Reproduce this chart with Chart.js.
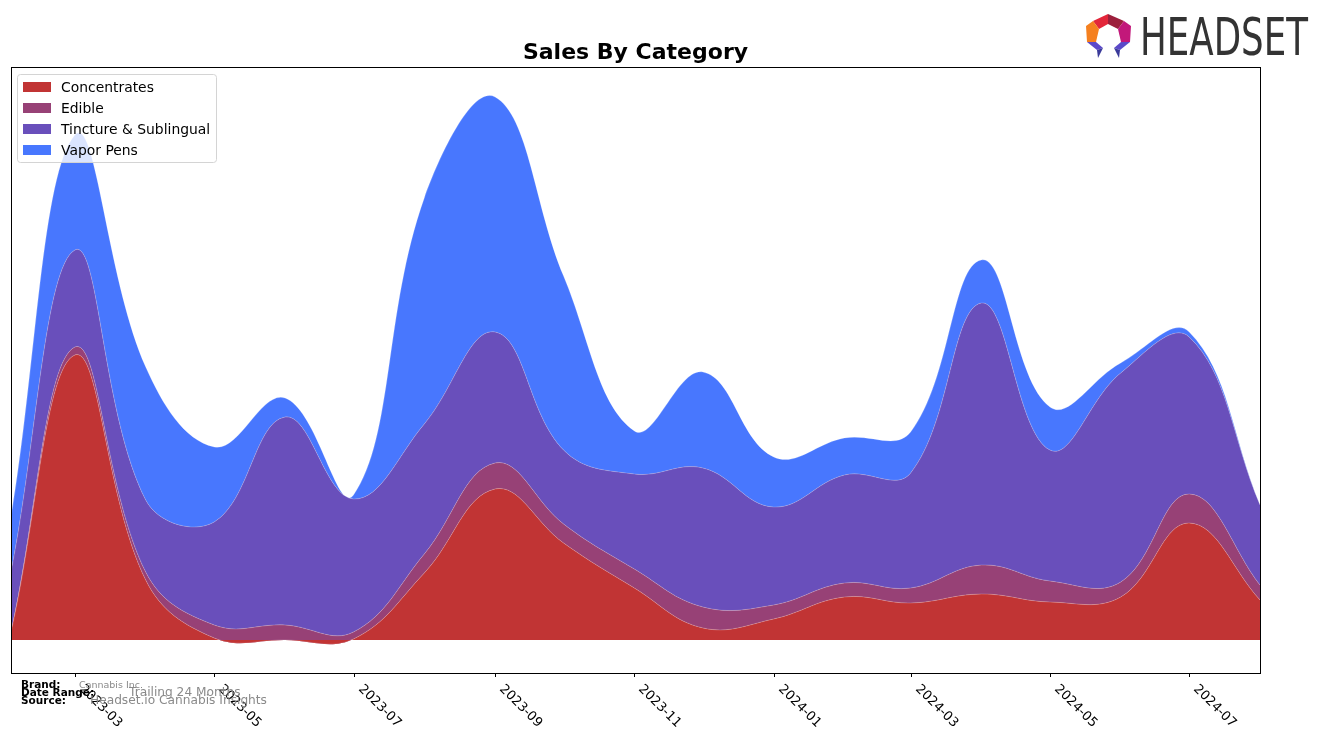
<!DOCTYPE html>
<html>
<head>
<meta charset="utf-8">
<script src="https://cdn.jsdelivr.net/npm/chart.js@4"></script>
<style>
  html, body { margin: 0; padding: 0; background: #ffffff; }
  #wrap { width: 1324px; height: 743px; position: relative; }
</style>
</head>
<body>
<div id="wrap"><canvas id="c" width="1324" height="743"></canvas></div>
<script>
// ---- data ----
const months = ['2023-02','2023-03','2023-04','2023-05','2023-06','2023-07','2023-08','2023-09','2023-10',
                '2023-11','2023-12','2024-01','2024-02','2024-03','2024-04','2024-05','2024-06','2024-07','2024-08'];
const concentrates = [8, 285, 60, 2, 0, 1, 67, 151, 97, 52, 12, 21, 43, 37, 46, 38, 43, 117, 40];
const edible       = [0, 8, 8, 13, 15, 7, 19, 26, 19, 19, 21, 14, 14, 15, 29, 21, 15, 29, 15];
const tincture     = [60, 97, 72, 103, 208, 133, 130, 131, 74, 95, 139, 98, 108, 115, 262, 131, 209, 157, 80];
const vaporPens    = [55, 115, 133, 75, 19, 4, 226, 235, 174, 43, 96, 50, 37, 41, 43, 43, 10, 5, 0];
const tickLabels   = ['2023-03','2023-05','2023-07','2023-09','2023-11','2024-01','2024-03','2024-05','2024-07'];
const seriesNames  = ['Concentrates','Edible','Tincture & Sublingual','Vapor Pens'];
const footerLabels = ['Brand:','Date Range:','Source:'];
const footerValues = ['Cannabis Inc.','Trailing 24 Months','Headset.io Cannabis Insights'];

const colors = ['#c13434', '#974176', '#694fbb', '#4877fe'];

function toTime(m) { const [y, mo] = m.split('-').map(Number); return Date.UTC(y, mo - 1, 1); }
function pts(arr) { return arr.map((v, i) => ({ x: toTime(months[i]), y: v })); }

const seriesValues = [concentrates, edible, tincture, vaporPens];
const datasets = seriesValues.map((arr, i) => ({
  label: seriesNames[i],
  data: pts(arr),
  backgroundColor: colors[i],
  borderColor: 'rgba(255,255,255,0.25)',
  borderWidth: 0.8,
  fill: i === 0 ? 'origin' : '-1',
  tension: 0.4,
  pointRadius: 0
}));

const decor = {
  id: 'decor',
  afterDraw(chart) {
    const ctx = chart.ctx;
    const a = chart.chartArea;
    const xs = chart.scales.x;
    ctx.save();
    // frame
    ctx.strokeStyle = '#000';
    ctx.lineWidth = 1;
    ctx.strokeRect(Math.round(a.left) + 0.5, Math.round(a.top) + 0.5, Math.round(a.right - a.left), Math.round(a.bottom - a.top));
    // x ticks + rotated labels
    ctx.fillStyle = '#000';
    ctx.font = '13px "DejaVu Sans"';
    tickLabels.forEach(lbl => {
      const px = Math.round(xs.getPixelForValue(toTime(lbl))) + 0.5;
      ctx.beginPath();
      ctx.moveTo(px, a.bottom);
      ctx.lineTo(px, a.bottom + 4);
      ctx.stroke();
      ctx.save();
      ctx.translate(px + 6, a.bottom + 14);
      ctx.rotate(Math.PI / 4);
      ctx.textAlign = 'left';
      ctx.textBaseline = 'middle';
      ctx.fillText(lbl, 0, 0);
      ctx.restore();
    });
    // title
    ctx.font = 'bold 22px "DejaVu Sans"';
    ctx.textAlign = 'center';
    ctx.textBaseline = 'middle';
    ctx.fillText('Sales By Category', (a.left + a.right) / 2, 53);
    // legend
    const lx = 17, ly = 74, lw = 199, lh = 88;
    ctx.fillStyle = 'rgba(255,255,255,0.8)';
    ctx.strokeStyle = '#d4d4d4';
    ctx.beginPath();
    ctx.roundRect(lx + 0.5, ly + 0.5, lw, lh, 3);
    ctx.fill();
    ctx.stroke();
    ctx.font = '13.9px "DejaVu Sans"';
    ctx.textAlign = 'left';
    seriesNames.forEach((n, i) => {
      const cy = 87 + i * 21;
      ctx.fillStyle = colors[i];
      ctx.fillRect(23, cy - 5, 28, 10);
      ctx.fillStyle = '#000';
      ctx.fillText(n, 61, cy + 1);
    });
    // footer
    ctx.fillStyle = '#000';
    ctx.font = 'bold 10.5px "DejaVu Sans"';
    footerLabels.forEach((f, i) => ctx.fillText(f, 21, 685 + i * 8));
    ctx.fillStyle = '#8a8a8a';
    ctx.font = '9.5px "DejaVu Sans"';
    ctx.fillText(footerValues[0], 79, 686);
    ctx.font = '12.2px "DejaVu Sans"';
    ctx.fillText(footerValues[1], 129, 693);
    ctx.fillText(footerValues[2], 90, 701);
    // logo
    const poly = (c, p) => { ctx.fillStyle = c; ctx.beginPath(); ctx.moveTo(p[0], p[1]); for (let k = 2; k < p.length; k += 2) ctx.lineTo(p[k], p[k + 1]); ctx.closePath(); ctx.fill(); };
    poly('#e3263a', [1093,21, 1108,14, 1108,24, 1099,29]);
    poly('#9c1f3c', [1108,14, 1124,21, 1118,29, 1108,24]);
    poly('#f5801f', [1086,26, 1093,21, 1099,29, 1096,42, 1087,42]);
    poly('#c2187a', [1124,21, 1131,26, 1130,42, 1121,42, 1118,29]);
    poly('#5b49c9', [1087,42, 1096,42, 1103,48, 1097,50]);
    poly('#3a3a9a', [1097,50, 1103,48, 1098,58]);
    poly('#5b49c9', [1121,42, 1130,42, 1120,50, 1114,48]);
    poly('#3a3a9a', [1114,48, 1120,50, 1119,58]);
    ctx.fillStyle = '#333333';
    ctx.font = '51px "DejaVu Sans"';
    ctx.textAlign = 'left';
    ctx.textBaseline = 'alphabetic';
    ctx.fillText('HEADSET', 1140, 55, 168);
    ctx.restore();
  }
};

new Chart(document.getElementById('c'), {
  type: 'line',
  data: { datasets },
  options: {
    responsive: false,
    animation: false,
    layout: { padding: { left: 11, top: 67, right: 64, bottom: 70 } },
    plugins: { legend: { display: false }, title: { display: false }, tooltip: { enabled: false } },
    scales: {
      x: { type: 'linear', display: false, min: toTime(months[0]), max: toTime(months[months.length - 1]) },
      y: { display: false, stacked: true, min: -33, max: 573 }
    }
  },
  plugins: [decor]
});
</script>
</body>
</html>
